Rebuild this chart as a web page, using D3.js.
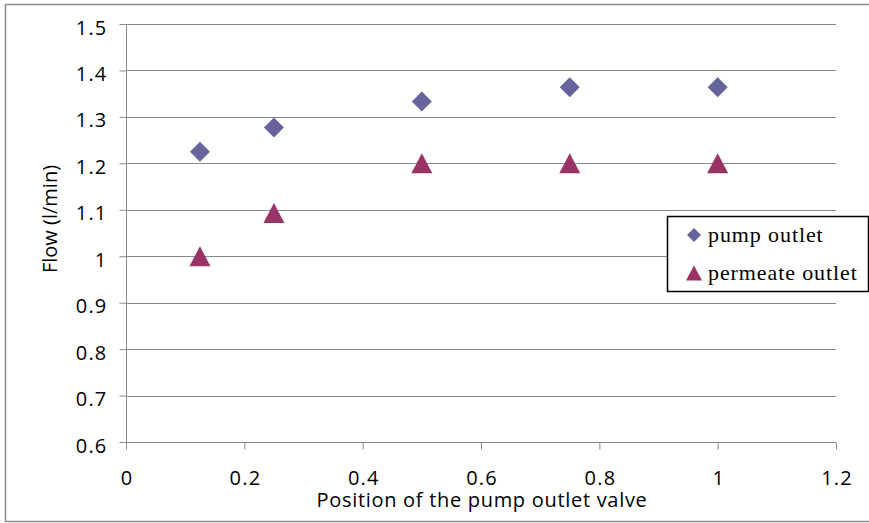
<!DOCTYPE html>
<html>
<head>
<meta charset="utf-8">
<script src="https://cdn.jsdelivr.net/npm/d3@7"></script>
<style>
  html, body { margin: 0; padding: 0; background: #fff; }
  svg { display: block; }
  .tick text { font-family: "Open Sans", Lato, sans-serif; }
</style>
</head>
<body>
<svg id="chart" width="869" height="523"></svg>
<script>
// Valve position (fraction open)
const positions = [0.125, 0.25, 0.5, 0.75, 1.0];
// Measured flows, l/min
const pumpOutlet = [1.225, 1.277, 1.333, 1.364, 1.364];
const permeateOutlet = [1.0, 1.093, 1.2, 1.2, 1.2];

const xTicks = [0, 0.2, 0.4, 0.6, 0.8, 1, 1.2];
const yTicks = [0.6, 0.7, 0.8, 0.9, 1, 1.1, 1.2, 1.3, 1.4, 1.5];

const seriesNames = ["pump outlet", "permeate outlet"];
const seriesColors = ["#65659b", "#993366"];

const svg = d3.select("#chart");
const W = 869, H = 523;
const plot = { left: 126, right: 836, top: 24, bottom: 442 };
const fontSans = "'Open Sans', Lato, sans-serif";

// chart frame
svg.append("rect")
  .attr("x", 5.5).attr("y", 4.5)
  .attr("width", W + 10).attr("height", 517)
  .attr("fill", "#fff").attr("stroke", "#8c8c8c").attr("stroke-width", 1.5);

const x = d3.scaleLinear().domain([0, 1.2]).range([plot.left, plot.right]);
const y = d3.scaleLinear().domain([0.6, 1.5]).range([plot.bottom, plot.top]);

// horizontal gridlines
svg.append("g")
  .selectAll("line")
  .data(yTicks.slice(1))
  .join("line")
  .attr("x1", plot.left).attr("x2", plot.right)
  .attr("y1", d => Math.round(y(d)) + 0.5).attr("y2", d => Math.round(y(d)) + 0.5)
  .attr("stroke", "#8a8a8a").attr("stroke-width", 1);

const fmt = d => d3.format("")(+d.toFixed(1));

// y axis
const yAxis = svg.append("g")
  .attr("transform", `translate(${plot.left + 0.5},0)`)
  .call(d3.axisLeft(y).tickValues(yTicks).tickSize(7).tickPadding(12).tickFormat(fmt));
yAxis.select(".domain").attr("stroke", "#8a8a8a").attr("d", `M0,${plot.top}V${plot.bottom + 7}`);
yAxis.selectAll(".tick line").attr("stroke", "#8a8a8a");
yAxis.selectAll(".tick text")
  .attr("font-size", 20).attr("fill", "#000").attr("dy", "0.5em")
  .attr("letter-spacing", 1.2);

// x axis
const xAxis = svg.append("g")
  .attr("transform", `translate(0,${plot.bottom + 0.5})`)
  .call(d3.axisBottom(x).tickValues(xTicks).tickSize(7).tickPadding(21).tickFormat(fmt));
xAxis.select(".domain").attr("stroke", "#8a8a8a").attr("d", `M${plot.left},0H${plot.right}`);
xAxis.selectAll(".tick line").attr("stroke", "#8a8a8a");
xAxis.selectAll(".tick text")
  .attr("font-size", 20).attr("fill", "#000")
  .attr("letter-spacing", 1.2)
  .attr("dx", 0.6);

// axis titles
svg.append("text")
  .attr("x", 482).attr("y", 507)
  .attr("text-anchor", "middle")
  .attr("font-family", fontSans)
  .attr("font-size", 20)
  .attr("letter-spacing", 0.7)
  .text("Position of the pump outlet valve");

svg.append("text")
  .attr("transform", "translate(57,219) rotate(-90)")
  .attr("text-anchor", "middle")
  .attr("font-family", fontSans)
  .attr("font-size", 20)
  .text("Flow (l/min)");

// markers
const diamond = s => `M0,${-s}L${s},0L0,${s}L${-s},0Z`;
const triangle = (w, h) => `M0,${-h / 2}L${w / 2},${h / 2}L${-w / 2},${h / 2}Z`;

svg.append("g").selectAll("path")
  .data(positions.map((p, i) => [p, pumpOutlet[i]]))
  .join("path")
  .attr("transform", d => `translate(${x(d[0])},${y(d[1])})`)
  .attr("d", diamond(10))
  .attr("fill", seriesColors[0]);

svg.append("g").selectAll("path")
  .data(positions.map((p, i) => [p, permeateOutlet[i]]))
  .join("path")
  .attr("transform", d => `translate(${x(d[0])},${y(d[1])})`)
  .attr("d", triangle(21, 20))
  .attr("fill", seriesColors[1]);

// legend
const lg = svg.append("g").attr("transform", "translate(667,216)");
lg.append("rect")
  .attr("x", 0.5).attr("y", 0.5).attr("width", 201).attr("height", 75)
  .attr("fill", "#fff").attr("stroke", "#000").attr("stroke-width", 1.5);
const rows = lg.selectAll("g.row").data(seriesNames).join("g")
  .attr("class", "row")
  .attr("transform", (d, i) => `translate(0,${i * 38})`);
rows.append("path")
  .attr("transform", "translate(27,19)")
  .attr("d", (d, i) => i === 0 ? diamond(7) : triangle(16, 15))
  .attr("fill", (d, i) => seriesColors[i]);
rows.append("text")
  .attr("x", 41).attr("y", 26)
  .attr("font-family", "'Liberation Serif', 'Times New Roman', serif")
  .attr("font-size", 22)
  .attr("letter-spacing", 0.9)
  .text(d => d);
</script>
</body>
</html>
